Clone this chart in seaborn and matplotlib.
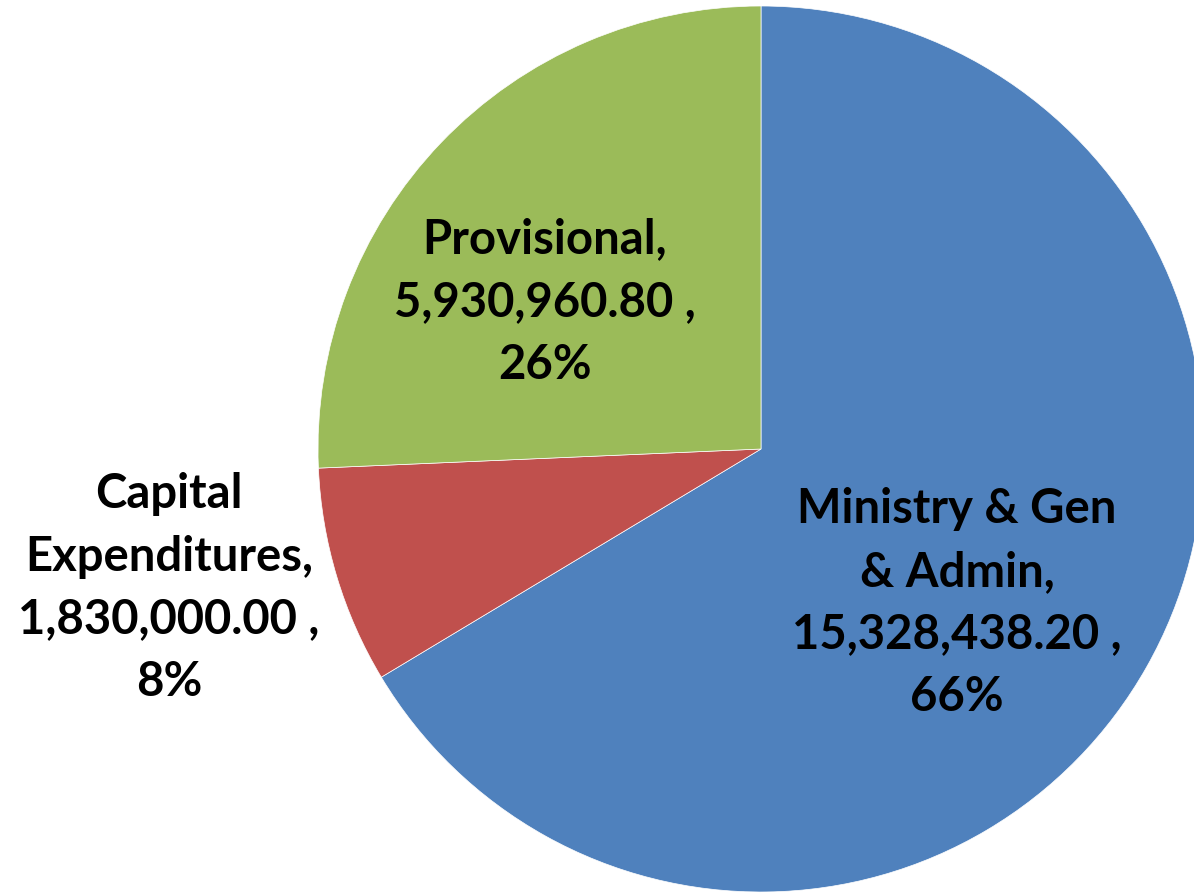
import matplotlib
matplotlib.use("Agg")
import matplotlib.pyplot as plt
import seaborn as sns

# data
categories = ["Ministry & Gen\n& Admin", "Capital\nExpenditures", "Provisional"]
amounts = [15328438.20, 1830000.00, 5930960.80]
amount_text = ["15,328,438.20", "1,830,000.00", "5,930,960.80"]
colors = ["#4F81BD", "#C0504D", "#9BBB59"]

sns.set_theme(style="white")
plt.rcParams["font.family"] = ["Lato", "DejaVu Sans"]

W, H = 1194, 894
fig = plt.figure(figsize=(W / 100, H / 100), dpi=100)
ax = fig.add_axes([0, 0, 1, 1])

cx, cy, r = 761, H - 449, 443
ax.pie(amounts, colors=colors, startangle=90, counterclock=False,
       center=(cx, cy), radius=r, frame=True,
       wedgeprops=dict(edgecolor="white", linewidth=0.5))
ax.set_xlim(0, W)
ax.set_ylim(0, H)
ax.set_aspect("equal")
ax.axis("off")

total = sum(amounts)
# label centres (x, y from top) as placed in the original
label_pos = [(957, 603), (169, 588), (545, 302)]
for cat, txt, val, (lx, ly) in zip(categories, amount_text, amounts, label_pos):
    pct = round(val / total * 100)
    label = f"{cat},\n{txt} ,\n{pct}%"
    ax.text(lx, H - ly, label, ha="center", va="center", fontsize=34,
            fontweight="bold", color="black", linespacing=1.52)

fig.savefig("out.png", dpi=100)
